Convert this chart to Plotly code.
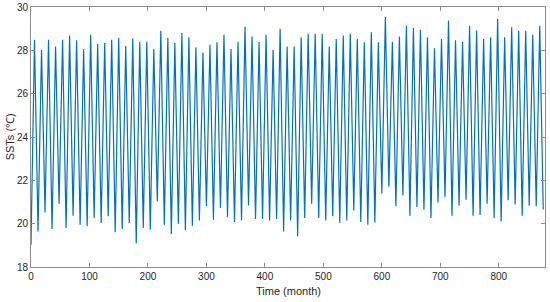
import plotly.graph_objects as go

# Annual troughs (start of each year, months 0,12,...,876) and peaks (months 6,18,...,870)
troughs = [19.03, 19.64, 20.52, 19.75, 20.92, 19.80, 20.37, 19.95, 19.88, 20.26,
           20.03, 20.34, 19.60, 19.75, 20.03, 19.10, 19.80, 19.72, 21.03, 19.95,
           19.52, 20.00, 19.70, 19.90, 20.15, 20.80, 20.18, 20.72, 20.31, 20.08,
           20.15, 20.84, 20.22, 20.22, 20.15, 20.22, 19.64, 20.15, 19.41, 20.26,
           20.92, 20.26, 20.15, 20.34, 20.03, 20.15, 20.61, 20.08, 19.95, 20.06,
           21.40, 21.70, 20.80, 21.30, 20.37, 20.77, 20.65, 20.26, 20.98, 21.23,
           20.37, 20.83, 21.10, 20.37, 20.40, 20.92, 20.26, 20.10, 21.08, 20.88,
           20.37, 20.83, 20.80, 20.65]
peaks = [28.49, 28.03, 28.49, 28.18, 28.49, 28.68, 28.46, 28.06, 28.72, 28.29,
         28.34, 28.49, 28.57, 28.20, 28.55, 28.40, 28.40, 28.06, 28.90, 28.57,
         28.34, 28.80, 28.60, 28.14, 27.90, 28.26, 28.37, 28.72, 28.06, 28.40,
         29.10, 28.64, 28.38, 28.72, 28.03, 29.00, 28.18, 28.18, 28.60, 28.76,
         28.76, 28.76, 28.18, 28.52, 28.68, 28.76, 28.52, 28.37, 28.83, 28.37,
         29.54, 28.40, 28.64, 29.13, 29.03, 28.95, 28.60, 28.10, 28.52, 29.38,
         28.46, 28.40, 29.13, 28.92, 28.52, 28.60, 29.44, 28.60, 29.07, 28.90,
         28.90, 28.72, 29.13]
x_ticks = [0, 100, 200, 300, 400, 500, 600, 700, 800]
y_ticks = [18, 20, 22, 24, 26, 28, 30]

xs, ys = [], []
for i, t in enumerate(troughs):
    xs.append(12 * i)
    ys.append(t)
    if i < len(peaks):
        xs.append(12 * i + 6)
        ys.append(peaks[i])

fig = go.Figure(go.Scatter(x=xs, y=ys, mode="lines",
                           line=dict(color="#0072BD", width=1.2)))

font_family = "Liberation Sans, Arial"
axis_common = dict(showline=True, linecolor="#8c8c8c", linewidth=1, mirror="ticks",
                   ticks="inside", ticklen=4, tickcolor="#8c8c8c", showgrid=False,
                   zeroline=False, automargin=False,
                   tickfont=dict(family=font_family, size=10, color="#262626"))

fig.update_layout(
    width=550, height=302,
    margin=dict(l=31, r=5, t=7, b=35, autoexpand=False),
    paper_bgcolor="white", plot_bgcolor="white",
    showlegend=False,
    xaxis=dict(range=[0, 879], tickvals=x_ticks, **axis_common),
    yaxis=dict(range=[18, 30], tickvals=y_ticks, **axis_common),
)
fig.add_annotation(text="Time (month)", xref="paper", yref="paper", x=0.5, y=-(291 - 267.3) / 260.0,
                   xanchor="center", yanchor="middle", showarrow=False,
                   font=dict(family=font_family, size=11, color="#262626"))
fig.add_annotation(text="SSTs (℃)", xref="paper", yref="paper", x=-(30.7 - 10) / 514.0, y=0.5,
                   xanchor="center", yanchor="middle", textangle=-90, showarrow=False,
                   font=dict(family=font_family, size=11, color="#262626"))

fig.write_html("out.html", config={"displayModeBar": False},
               post_script="document.body.style.margin='0';document.body.style.overflow='hidden';")
